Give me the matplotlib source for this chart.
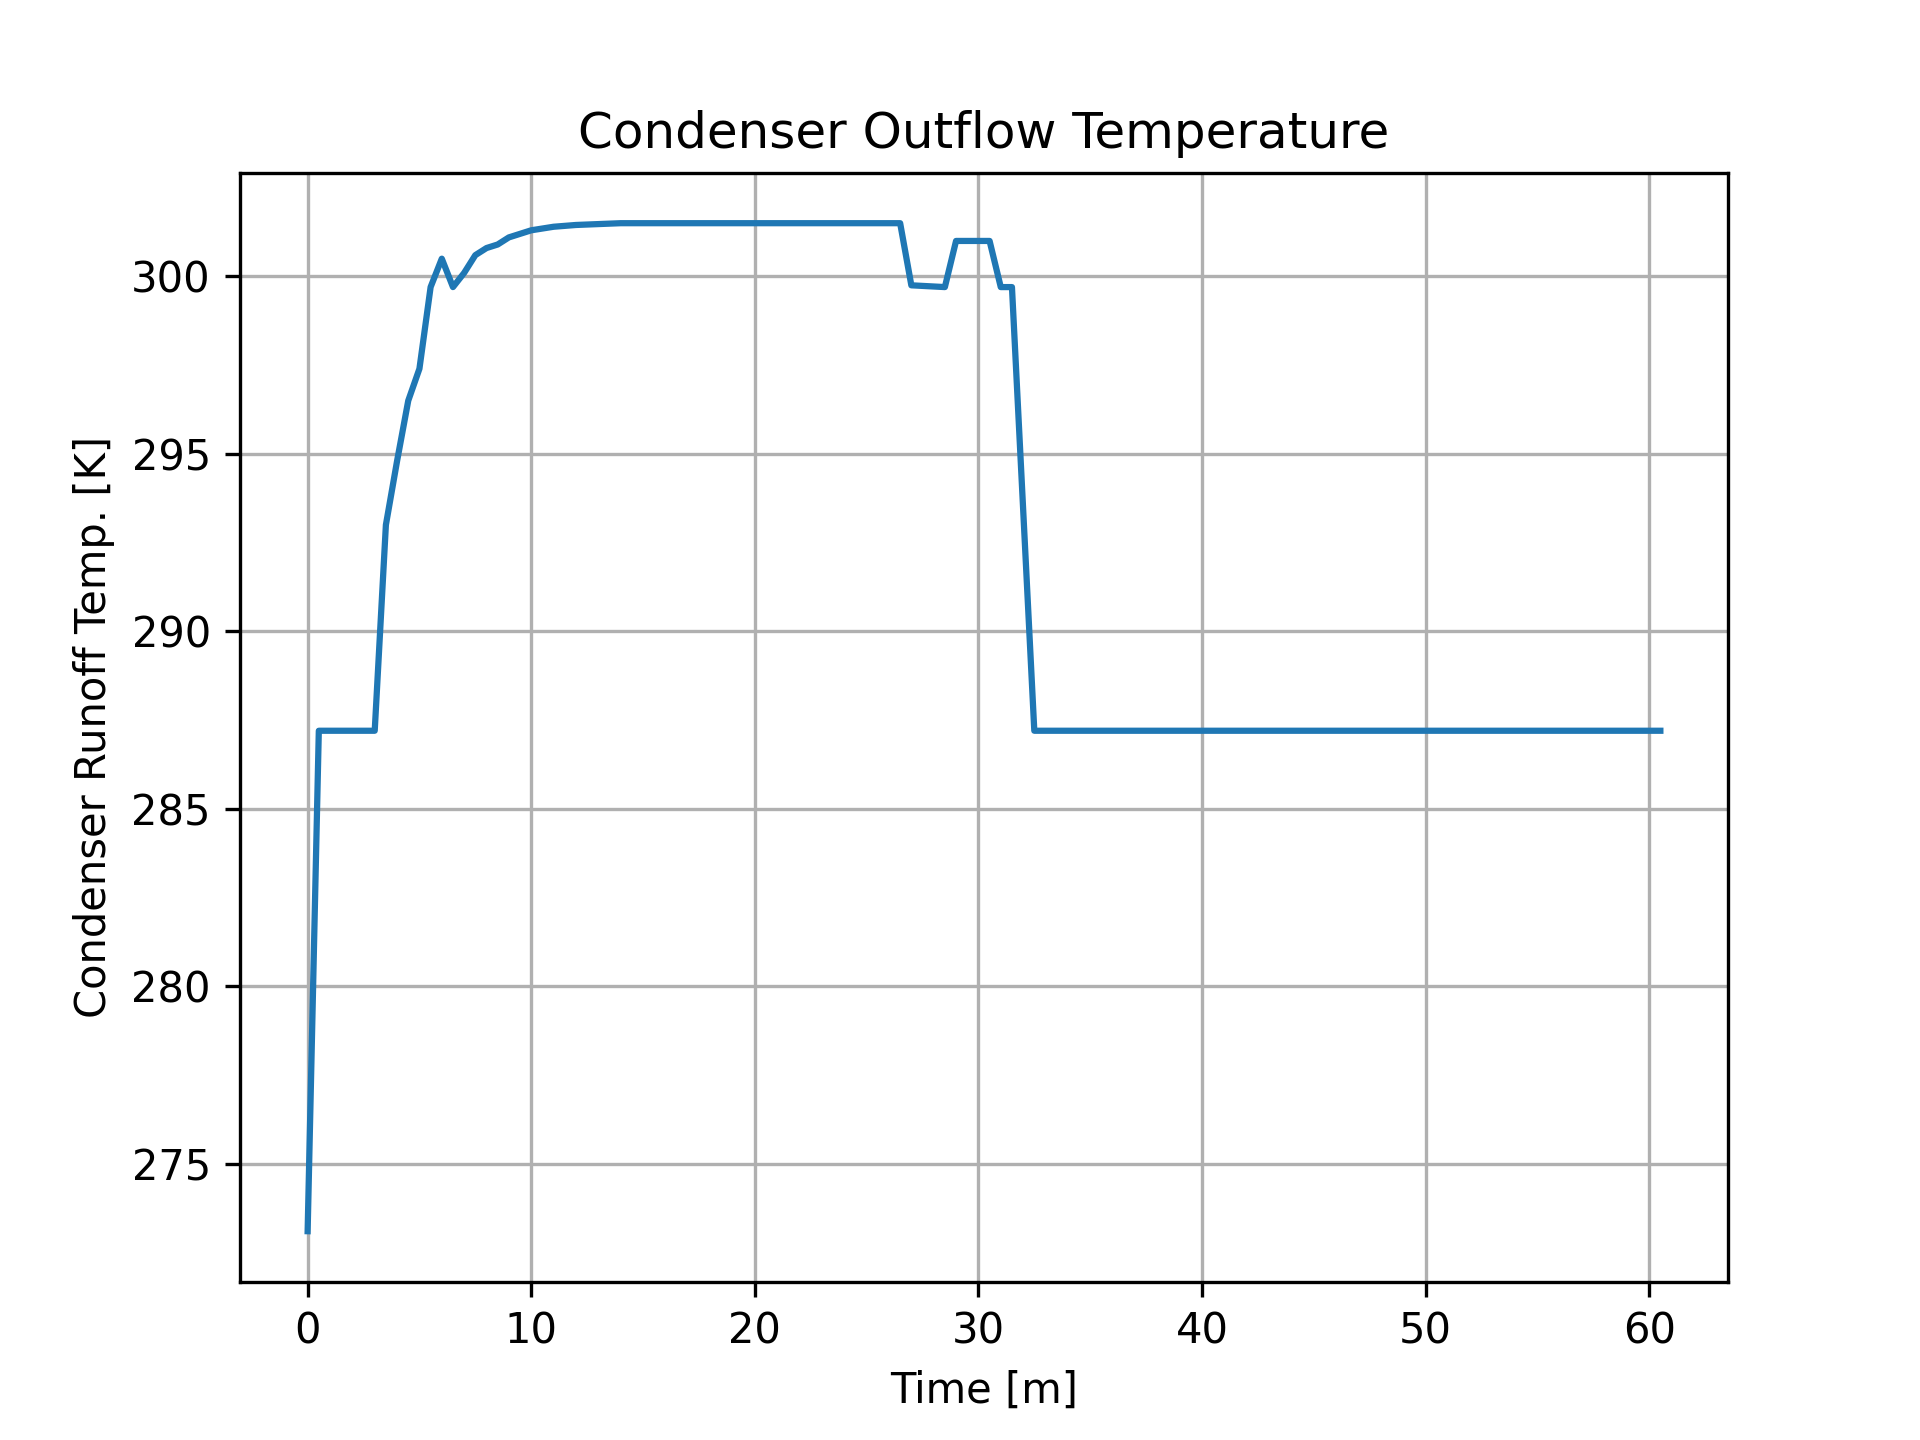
import matplotlib
matplotlib.use("Agg")
import matplotlib.pyplot as plt

# time in minutes, temperature in K
time_m = [0, 0.5, 3, 3.5, 4, 4.5, 5, 5.5, 6, 6.5, 7, 7.5, 8, 8.5, 9, 9.5, 10,
          11, 12, 14, 26.5, 27, 28.5, 29, 30.5, 31, 31.5, 32.5, 60.5]
temp_k = [273.1, 287.2, 287.2, 293.0, 294.8, 296.5, 297.4, 299.7, 300.5, 299.7,
          300.1, 300.6, 300.8, 300.9, 301.1, 301.2, 301.3, 301.4, 301.45, 301.5,
          301.5, 299.75, 299.7, 301.0, 301.0, 299.7, 299.7, 287.2, 287.2]

fig, ax = plt.subplots(figsize=(6.4, 4.8))
ax.plot(time_m, temp_k)
ax.set_title("Condenser Outflow Temperature")
ax.set_xlabel("Time [m]")
ax.set_ylabel("Condenser Runoff Temp. [K]")
ax.grid(True)
fig.savefig("out.png", dpi=300)
